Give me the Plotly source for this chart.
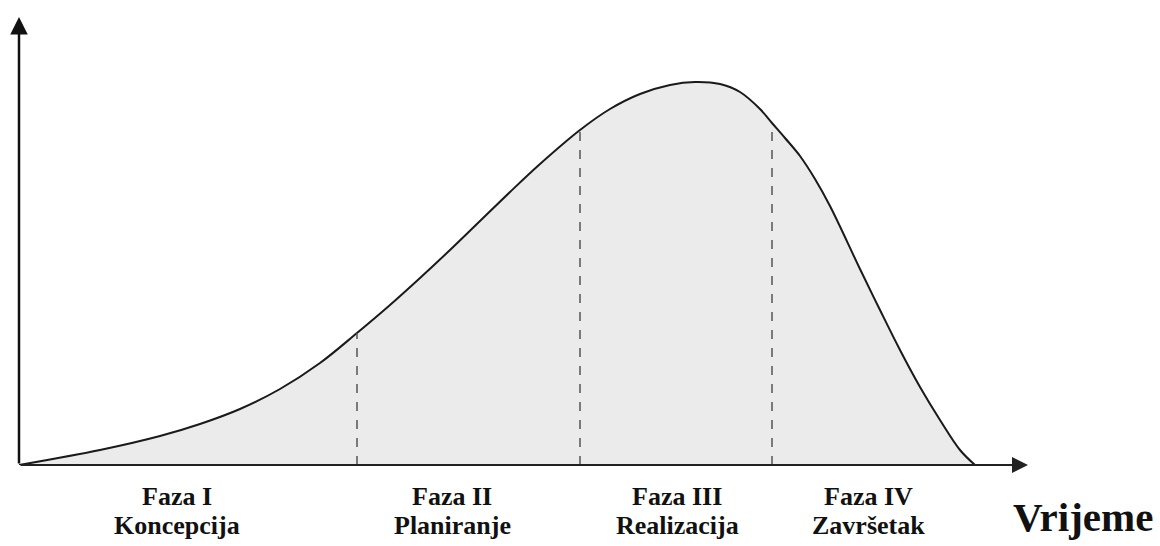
import plotly.graph_objects as go
import numpy as np

# Curve (time vs. effort)
time_vals = [0, 81, 141, 181, 221, 261, 301, 338, 371, 401, 431, 461, 491, 521,
             561, 591, 621, 651, 676, 701, 721, 741, 753, 766, 781, 796, 811,
             841, 861, 881, 901, 921, 941, 956]
effort_vals = [0, 15, 29, 41, 56, 76, 102, 132, 160, 187, 215, 244, 273, 301,
               335, 356, 371, 380, 383, 381, 373, 356, 342, 327, 309, 286, 259,
               196, 155, 115, 78, 45, 15, 0]

# Phase boundaries (time)
phase_bounds = [338, 561, 753]
phase_names = ["Faza I", "Faza II", "Faza III", "Faza IV"]
phase_subs = ["Koncepcija", "Planiranje", "Realizacija", "Završetak"]
axis_label = "Vrijeme"

X_MAX, Y_MAX = 1009, 447
label_x = [158, 433, 658, 849]   # in time units

FONT = "Liberation Serif"

fig = go.Figure()
fig.add_trace(go.Scatter(
    x=time_vals, y=effort_vals, mode="lines",
    line=dict(color="#1a1a1a", width=2, shape="spline", smoothing=1.0),
    fill="tozeroy", fillcolor="#ebebeb", hoverinfo="skip", showlegend=False,
))

for b in phase_bounds:
    top = float(np.interp(b, time_vals, effort_vals))
    fig.add_trace(go.Scatter(
        x=[b, b], y=[0, top], mode="lines",
        line=dict(color="#555555", width=1.5, dash="dash"),
        hoverinfo="skip", showlegend=False,
    ))

# Axes with arrows
fig.add_annotation(x=0, y=Y_MAX + 1, ax=0, ay=0, xref="x", yref="y", axref="x", ayref="y",
                   text="", showarrow=True, arrowhead=2, arrowsize=1.4,
                   arrowwidth=2.5, arrowcolor="#111111")
fig.add_annotation(x=X_MAX, y=0, ax=0, ay=0, xref="x", yref="y", axref="x", ayref="y",
                   text="", showarrow=True, arrowhead=2, arrowsize=1.6,
                   arrowwidth=2, arrowcolor="#222222")

for lx, n, s in zip(label_x, phase_names, phase_subs):
    fig.add_annotation(x=lx / X_MAX, y=-31 / Y_MAX, xref="paper", yref="paper",
                       text=f"<b>{n}</b>", showarrow=False,
                       font=dict(family=FONT, size=26, color="#111111"),
                       xanchor="center", yanchor="middle")
    fig.add_annotation(x=lx / X_MAX, y=-60 / Y_MAX, xref="paper", yref="paper",
                       text=f"<b>{s}</b>", showarrow=False,
                       font=dict(family=FONT, size=26, color="#111111"),
                       xanchor="center", yanchor="middle")

fig.add_annotation(x=1064 / X_MAX, y=-52 / Y_MAX, xref="paper", yref="paper",
                   text=f"<b>{axis_label}</b>", showarrow=False,
                   font=dict(family=FONT, size=41, color="#111111"),
                   xanchor="center", yanchor="middle")

fig.update_xaxes(range=[0, X_MAX], visible=False, fixedrange=True)
fig.update_yaxes(range=[0, Y_MAX], visible=False, fixedrange=True)
fig.update_layout(
    width=1160, height=546,
    margin=dict(l=19, r=132, t=18, b=81),
    plot_bgcolor="white", paper_bgcolor="white",
    showlegend=False,
)

fig.write_html("out.html", config={"displayModeBar": False},
               post_script="document.body.style.margin='0';document.body.style.overflow='hidden';")
